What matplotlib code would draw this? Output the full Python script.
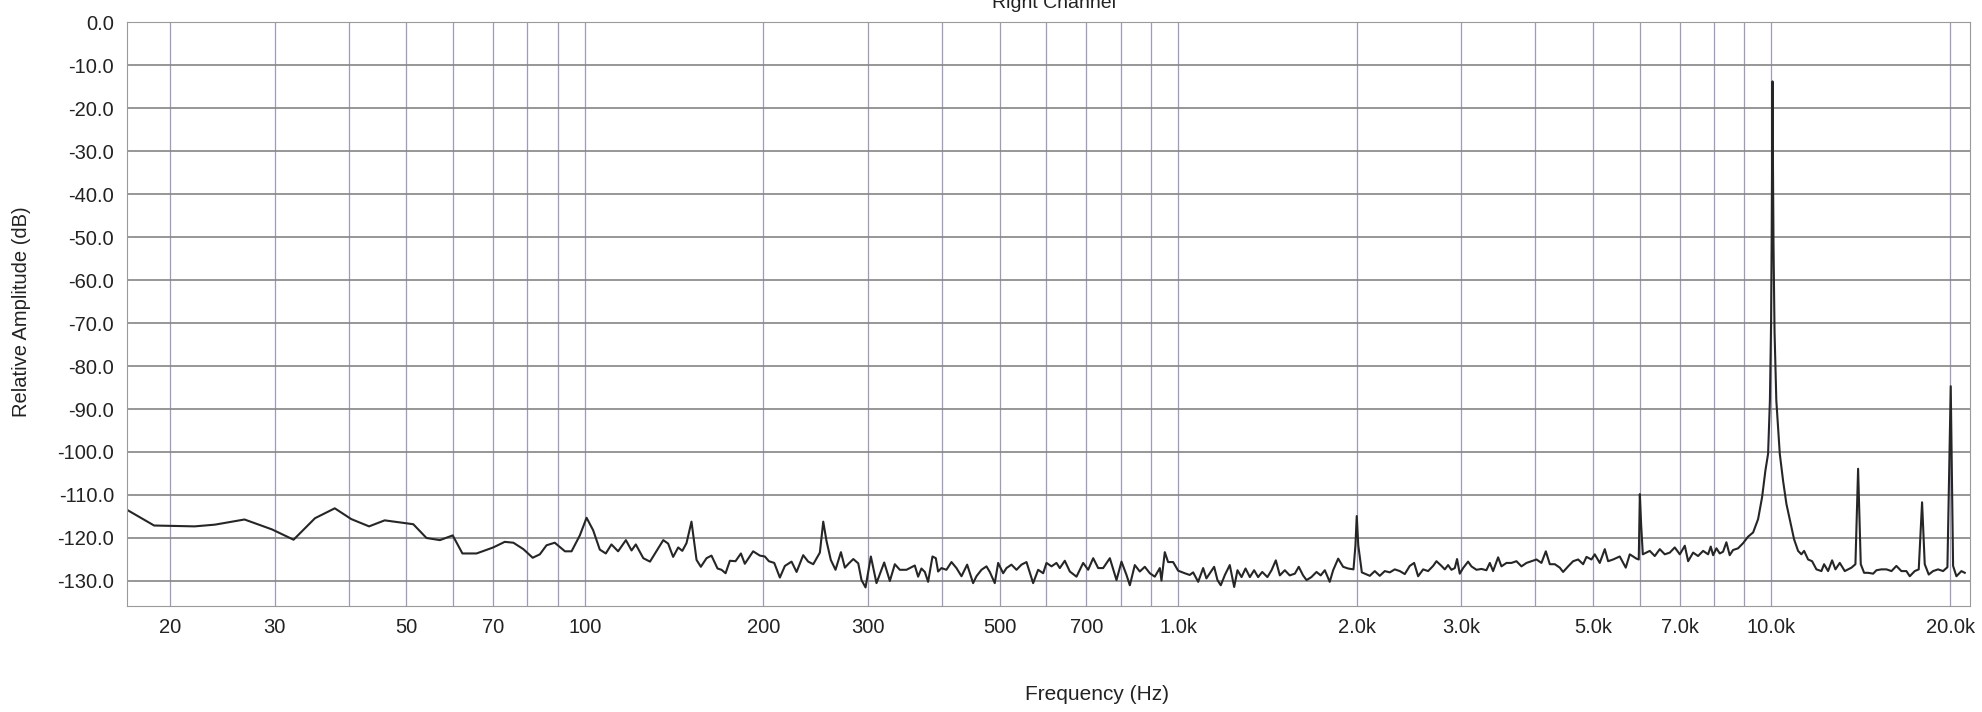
import matplotlib
matplotlib.use('Agg')
import matplotlib.pyplot as plt
from matplotlib.ticker import FixedLocator, FixedFormatter, NullFormatter

plt.rcParams['font.family'] = ['Liberation Sans', 'DejaVu Sans']
plt.rcParams['axes.unicode_minus'] = False

# spectrum, in pieces (Hz / dB)
f_a = [16.9, 18.8, 22.0, 23.8, 26.7, 29.7, 32.3, 35.1, 37.9, 40.4, 43.3, 46.0]
d_a = [-113.4, -117.1, -117.3, -116.9, -115.7, -118.0, -120.4, -115.4, -113.1, -115.6, -117.3, -115.9]

f_b = [51.4, 54.1, 57.0, 59.9, 62.2, 65.7, 70.1, 73.3, 75.8, 78.8, 81.7, 84.0, 86.2, 89.0,
       92.6, 95.0, 98.1, 100.7, 103.3, 106.0, 108.5, 110.9, 113.8, 117.3, 119.9, 121.9, 125.5, 128.8]
d_b = [-116.8, -120.0, -120.5, -119.4, -123.6, -123.6, -122.2, -120.9, -121.1, -122.6, -124.6, -123.8, -121.7, -121.1,
       -123.1, -123.1, -119.4, -115.3, -118.2, -122.7, -123.6, -121.5, -123.1, -120.5, -122.9, -121.5, -124.7, -125.5]

f_c = [135.6, 138.2, 140.9, 143.7, 146.0, 148.4, 151.3, 154.3, 156.9, 160.4, 163.5, 167.4, 170.0, 172.7,
       175.6, 179.5, 183.3, 186.1, 192.2, 197.3, 201.1, 204.3, 208.6, 213.2, 217.4, 223.1, 227.5, 233.4,
       238.0, 242.7, 249.0, 252.3, 255.5, 259.8, 264.6, 270.2, 274.4, 278.7, 283.5, 289.0, 292.7, 297.3,
       303.5, 310.2, 319.6, 326.7, 333.1, 339.6, 348.5, 359.9]
d_c = [-120.5, -121.3, -124.4, -122.2, -123.0, -121.2, -116.2, -125.1, -126.7, -124.7, -124.1, -127.1, -127.4, -128.2,
       -125.3, -125.4, -123.6, -126.0, -123.1, -124.1, -124.3, -125.4, -125.8, -129.2, -126.5, -125.5, -127.9, -124.0,
       -125.5, -126.1, -123.4, -116.2, -120.7, -125.1, -127.4, -123.3, -126.9, -125.9, -124.9, -125.9, -129.8, -131.5,
       -124.3, -130.5, -125.7, -130.0, -126.1, -127.4, -127.4, -126.4]

f_d = [364.6, 369.3, 374.2, 379.0, 385.5, 390.5, 394.0, 399.2, 406.9, 415.0, 423.1, 431.4, 441.0, 451.3,
       457.2, 466.2, 475.3, 481.5, 490.9, 497.4, 507.1, 513.7, 523.7, 534.1, 544.5, 555.2, 569.7, 580.9,
       592.3, 600.0, 611.8, 623.7, 631.8, 644.2, 656.9, 674.1, 691.8, 705.3, 719.2, 733.3, 747.6, 767.2,
       787.3, 802.7, 818.4, 829.1, 845.3, 861.8, 878.7, 896.0, 913.5, 931.4, 937.4, 949.6, 961.9, 980.8, 1000]
d_d = [-129.0, -127.1, -127.9, -130.2, -124.3, -124.7, -127.8, -127.0, -127.4, -125.6, -127.0, -128.9, -126.2, -130.5,
       -128.9, -127.4, -126.6, -127.9, -130.5, -125.8, -128.2, -127.0, -126.2, -127.4, -126.2, -125.6, -130.5, -127.4,
       -128.2, -125.8, -126.6, -125.8, -127.0, -125.3, -127.8, -129.0, -125.8, -127.4, -124.7, -127.0, -127.0, -124.7,
       -129.8, -125.5, -128.6, -131.0, -126.3, -127.8, -126.7, -128.2, -129.0, -127.0, -129.9, -123.3, -125.6, -125.6, -127.6]

f_e = [1026, 1046, 1060, 1081, 1102, 1116, 1131, 1150, 1165, 1180, 1199, 1222, 1243, 1259, 1279, 1299,
       1321, 1343, 1364, 1386, 1414, 1437, 1461, 1484, 1513, 1542, 1573, 1597, 1624, 1646, 1677, 1711,
       1739, 1767, 1801, 1825, 1861, 1897, 1934, 1975, 1990, 2000, 2012, 2040, 2104, 2145, 2187, 2230,
       2274, 2318, 2364, 2410, 2457, 2499, 2538, 2588, 2638, 2690, 2725, 2779, 2815]
d_e = [-128.2, -128.6, -128.0, -130.2, -127.0, -129.4, -128.2, -126.7, -129.8, -131.0, -128.6, -126.3, -131.4, -127.5, -129.1, -127.1,
       -129.1, -127.5, -129.1, -127.9, -129.1, -127.5, -125.2, -128.7, -127.5, -128.7, -128.3, -126.7, -128.7, -129.8, -129.1, -127.9,
       -128.7, -127.5, -130.2, -127.5, -124.8, -126.7, -127.1, -127.3, -121.7, -114.9, -121.7, -128.0, -128.8, -127.7, -128.8, -127.7,
       -128.0, -127.3, -127.7, -128.4, -126.5, -125.8, -128.9, -127.3, -127.7, -126.5, -125.4, -126.5, -127.3]

f_f = [2851, 2888, 2926, 2952, 2983, 3022, 3081, 3121, 3183, 3245, 3308, 3352, 3395, 3462, 3507,
       3576, 3646, 3717, 3790, 3865, 3940, 4018, 4096, 4166, 4231, 4314, 4398, 4455, 4543, 4632,
       4723, 4815, 4878, 4973, 5037, 5136, 5237, 5305, 5409, 5550, 5681, 5770, 5921, 5975, 6000,
       6030, 6070, 6236, 6358, 6483, 6610, 6740, 6871, 7007, 7144, 7237, 7379, 7521, 7670, 7820]
d_f = [-126.3, -127.4, -127.0, -124.9, -128.3, -127.0, -125.5, -126.6, -127.4, -127.2, -127.5, -125.8, -127.7, -124.5, -126.6,
       -125.8, -125.8, -125.4, -126.6, -125.8, -125.4, -125.0, -125.8, -123.1, -126.1, -126.1, -126.9, -127.9, -126.6, -125.4,
       -125.0, -126.1, -124.4, -125.0, -123.8, -125.8, -122.6, -125.4, -125.0, -124.3, -126.9, -123.8, -124.8, -125.0, -109.8,
       -116.8, -123.8, -123.0, -124.2, -122.6, -123.8, -123.4, -122.2, -123.8, -121.8, -125.4, -123.4, -124.2, -123.0, -123.8]

f_g = [7901, 7973, 8077, 8182, 8287, 8395, 8504, 8615, 8785, 8958, 9132, 9314, 9495, 9643, 9768,
       9870, 9940, 9985, 10010, 10030, 10040, 10055, 10080, 10120, 10190, 10328, 10461, 10598, 10777, 10917,
       11088, 11232, 11350, 11527, 11708, 11906, 12139, 12265, 12457, 12653, 12818, 13036, 13291, 13640, 13852,
       13996, 14142, 14326, 14550, 14837, 15030, 15324, 15624, 15932, 16238, 16556, 16881, 17103, 17437, 17710,
       17940, 18127, 18410, 18723, 19090, 19463, 19794, 20051, 20235, 20498, 20900, 21172]
d_g = [-122.0, -124.0, -122.4, -123.6, -123.2, -121.0, -124.0, -122.8, -122.4, -121.2, -119.7, -118.7, -115.6, -110.5, -104.3,
       -100.4, -88.0, -70.0, -50.0, -25.0, -13.8, -30.0, -52.0, -72.0, -88.0, -100.4, -106.7, -112.1, -116.8, -120.3,
       -123.0, -123.8, -123.0, -125.0, -125.4, -127.3, -127.7, -126.1, -127.7, -125.2, -127.3, -125.8, -127.7, -126.9, -126.1,
       -103.9, -126.1, -128.1, -128.1, -128.3, -127.5, -127.3, -127.3, -127.7, -126.5, -127.7, -127.7, -128.9, -127.7, -127.3,
       -111.7, -126.1, -128.5, -127.7, -127.3, -127.7, -126.8, -84.7, -126.5, -128.9, -127.7, -128.1]

freq = f_a + f_b + f_c + f_d + f_e + f_f + f_g
level = d_a + d_b + d_c + d_d + d_e + d_f + d_g

x_ticks = [20, 30, 50, 70, 100, 200, 300, 500, 700, 1000, 2000, 3000, 5000, 7000, 10000, 20000]
x_labels = ['20', '30', '50', '70', '100', '200', '300', '500', '700', '1.0k', '2.0k', '3.0k',
            '5.0k', '7.0k', '10.0k', '20.0k']
x_minor = [40, 60, 80, 90, 400, 600, 800, 900, 4000, 6000, 8000, 9000]
y_ticks = list(range(0, -131, -10))
y_labels = ['%.1f' % v for v in y_ticks]

fig = plt.figure(figsize=(19.82, 7.12), dpi=100)
ax = fig.add_axes([0.0639, 0.149, 0.930, 0.820])

ax.semilogx(freq, level, color='#262626', lw=1.5)
ax.set_xlim(16.9, 21600)
ax.set_ylim(-135.8, 0)

ax.xaxis.set_major_locator(FixedLocator(x_ticks))
ax.xaxis.set_major_formatter(FixedFormatter(x_labels))
ax.xaxis.set_minor_locator(FixedLocator(x_minor))
ax.xaxis.set_minor_formatter(NullFormatter())
ax.set_yticks(y_ticks)
ax.set_yticklabels(y_labels)

ax.grid(axis='x', which='both', color='#9c9cba', lw=0.9)
ax.grid(axis='y', color='#858585', lw=1.2)
ax.tick_params(which='both', length=0, labelsize=14.5, pad=9, colors='#222222')
for s in ax.spines.values():
    s.set_color('#9a9a9a')

fig.text(0.0106, 0.562, 'Relative Amplitude (dB)', rotation=90, ha='center', va='center',
         fontsize=14.5, color='#222222')
fig.text(0.5535, 0.024, 'Frequency (Hz)', ha='center', va='center', fontsize=15, color='#222222')
# the scan cuts the title at the top edge
fig.text(0.532, 0.995, 'Right Channel', ha='center', va='center', fontsize=14, color='#222222')

fig.savefig('out.png', dpi=100)
